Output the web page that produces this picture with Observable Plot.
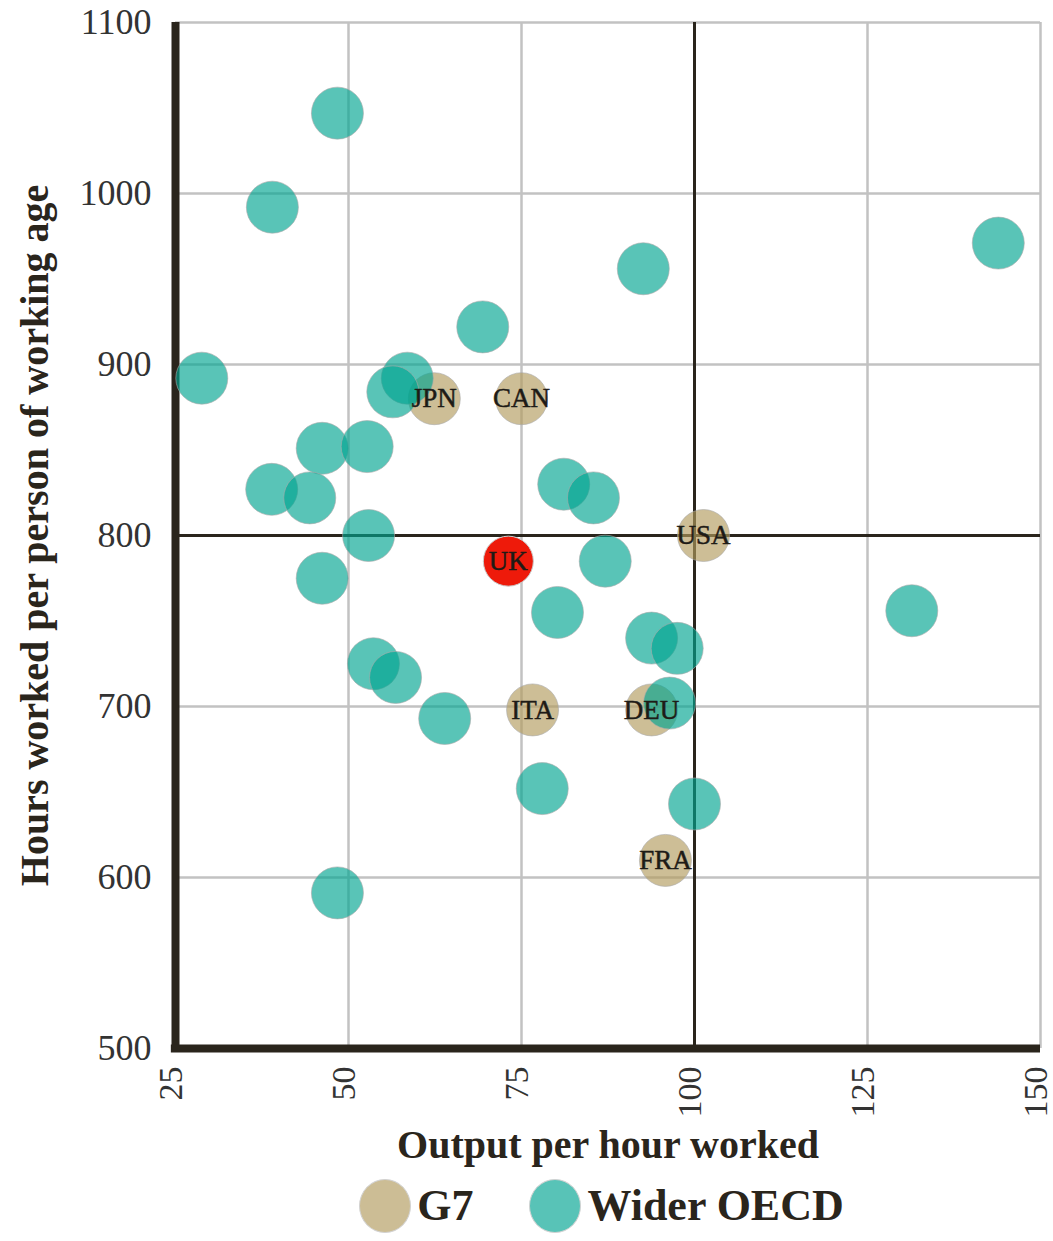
<!DOCTYPE html>
<html><head><meta charset="utf-8">
<script src="https://cdn.jsdelivr.net/npm/d3@7"></script>
<script src="https://cdn.jsdelivr.net/npm/@observablehq/plot@0.6"></script>
<style>
body{margin:0;background:#fff;font-family:"Liberation Serif",serif;}
#legend{display:flex;justify-content:center;align-items:center;height:71px;padding-left:150px;box-sizing:border-box;}
.item{display:flex;align-items:center;font-weight:bold;font-size:44px;color:#2a251c;}
.sw{width:52px;height:54px;border-radius:50%;margin-right:6px;border:1px solid #bbb;box-sizing:border-box;}
</style></head><body>
<div id="chart"></div>
<div id="legend"></div>
<script>
// Wider OECD (output per hour worked, hours worked per person of working age)
const oecdX = [48.4, 39.0, 143.9, 92.6, 69.4, 28.8, 58.5, 56.4, 46.2, 52.7, 38.9, 44.4, 81.1, 85.4, 52.9, 87.1, 46.2, 80.2, 131.4, 93.8, 97.5, 53.6, 56.8, 63.9, 96.4, 78.0, 100.0, 48.4];
const oecdY = [1047, 992, 971, 956, 922, 892, 892, 884, 851, 852, 827, 822, 830, 822, 800, 785, 775, 755, 756, 740, 734, 725, 717, 693, 702, 652, 643, 591];
// G7
const g7Codes = ["JPN", "CAN", "USA", "ITA", "DEU", "FRA"];
const g7X = [62.4, 75.0, 101.3, 76.6, 93.8, 95.8];
const g7Y = [880, 880, 800, 698, 698, 610];
// UK
const ukCode = ["UK"];
const ukX = [73.1];
const ukY = [785];
const xTicks = [25, 50, 75, 100, 125, 150];
const yTicks = [500, 600, 700, 800, 900, 1000, 1100];
const refX = [100];
const refY = [800];
const xLabel = "Output per hour worked";
const yLabel = "Hours worked per person of working age";
const legendNames = ["G7", "Wider OECD"];

const oecd = oecdX.map((x, i) => ({x, y: oecdY[i]}));
const g7 = g7X.map((x, i) => ({x, y: g7Y[i], code: g7Codes[i]}));
const uk = ukX.map((x, i) => ({x, y: ukY[i], code: ukCode[i]}));

const teal = "#00a491", tan = "#b29b5d", dark = "#2a251c";

const chart = Plot.plot({
  width: 1053, height: 1170,
  marginTop: 22, marginLeft: 175, marginRight: 13, marginBottom: 122,
  style: {fontFamily: "'Liberation Serif', serif", fontSize: "36px", color: "#333", background: "#fff"},
  x: {domain: [25, 150]},
  y: {domain: [500, 1100]},
  marks: [
    Plot.gridX(xTicks, {stroke: "#c2c2c2", strokeOpacity: 1, strokeWidth: 2.5}),
    Plot.gridY(yTicks, {stroke: "#c2c2c2", strokeOpacity: 1, strokeWidth: 2.5}),
    Plot.ruleX(refX, {stroke: dark, strokeWidth: 3}),
    Plot.ruleY(refY, {stroke: dark, strokeWidth: 3}),
    Plot.ruleX([25], {stroke: dark, strokeWidth: 8}),
    Plot.ruleY([500], {stroke: dark, strokeWidth: 8, x1: 25 - 0.6, x2: 150}),
    Plot.axisX({ticks: xTicks, tickFormat: d => String(d), tickRotate: -90, tickSize: 0, tickPadding: 18, label: null, fill: "#333", fontSize: 34, dx: -4}),
    Plot.axisY({ticks: yTicks, tickFormat: d => String(d), tickSize: 0, tickPadding: 24, label: null, fill: "#333"}),
    Plot.dot(g7, {x: "x", y: "y", r: 26, fill: tan, fillOpacity: 0.65, stroke: "#aaa", strokeWidth: 1, strokeOpacity: 0.6}),
    Plot.dot(oecd, {x: "x", y: "y", r: 26, fill: teal, fillOpacity: 0.65, stroke: "#aaa", strokeWidth: 1, strokeOpacity: 0.6}),
    Plot.dot(uk, {x: "x", y: "y", r: 25, fill: "#ee1a0a", stroke: "#ccc", strokeWidth: 1}),
    Plot.text(g7, {x: "x", y: "y", text: "code", fontSize: 27, fill: "#1e1b16", stroke: "#1e1b16", strokeWidth: 0.5}),
    Plot.text(uk, {x: "x", y: "y", text: "code", fontSize: 27, fill: "#1e1b16", stroke: "#1e1b16", strokeWidth: 0.5}),
    Plot.text([xLabel], {text: d => d, frameAnchor: "bottom", dy: 109, fontSize: 40, fontWeight: "bold", fill: dark}),
    Plot.text([yLabel], {text: d => d, frameAnchor: "left", textAnchor: "middle", dx: -140, rotate: -90, fontSize: 40, fontWeight: "bold", fill: dark})
  ]
});
document.getElementById("chart").append(chart);

const legend = document.getElementById("legend");
const legendColors = [tan, teal];
legendNames.forEach((name, i) => {
  const it = document.createElement("div");
  it.className = "item";
  if (i > 0) it.style.marginLeft = "56px";
  const sw = document.createElement("div");
  sw.className = "sw";
  sw.style.background = legendColors[i];
  sw.style.opacity = 0.65;
  const t = document.createElement("span");
  t.textContent = name;
  it.append(sw, t);
  legend.append(it);
});
</script>
</body></html>
